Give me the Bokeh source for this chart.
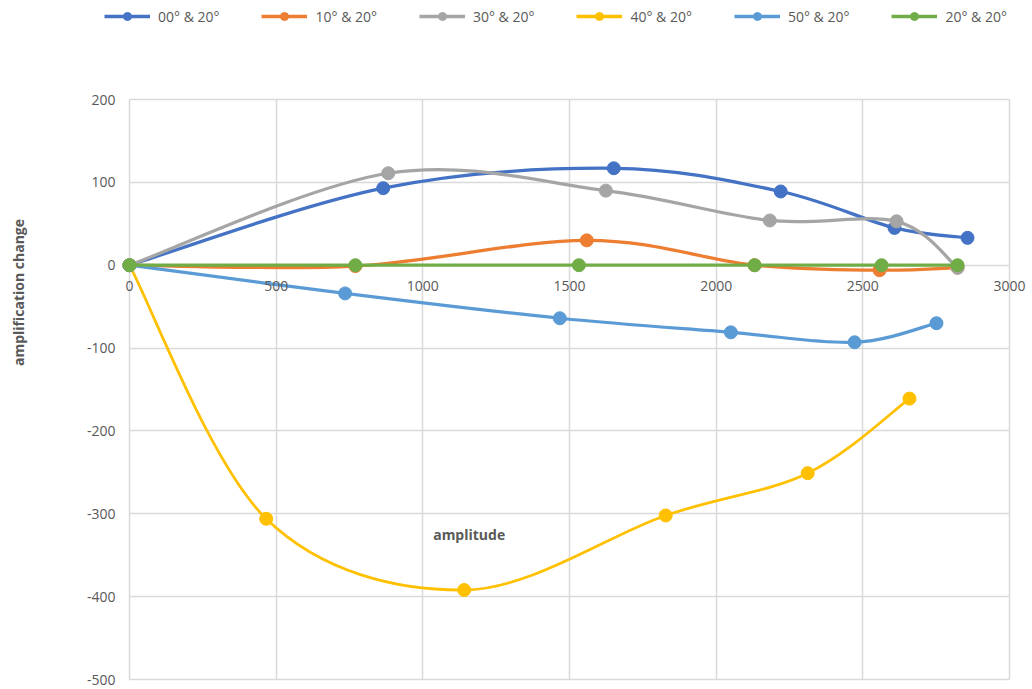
import math
from bokeh.plotting import figure
from bokeh.models import (Range1d, FixedTicker, Legend, LegendItem, Label, ColumnDataSource)
from bokeh.embed import file_html
from bokeh.resources import INLINE

series_names = ["00° & 20°", "10° & 20°", "30° & 20°", "40° & 20°", "50° & 20°", "20° & 20°"]
series_colors = ["#4472C4", "#ED7D31", "#A5A5A5", "#FFC000", "#5B9BD5", "#70AD47"]

x_00 = [0, 865, 1651, 2220, 2608, 2857]
y_00 = [0, 93, 117, 89, 45, 33]
x_10 = [0, 770, 1559, 2131, 2557, 2823]
y_10 = [0, -1, 30, 0, -6, -3]
x_30 = [0, 882, 1624, 2183, 2615, 2823]
y_30 = [0, 111, 90, 54, 53, -3]
x_40 = [0, 466, 1141, 1828, 2312, 2659]
y_40 = [0, -306, -392, -302, -251, -161]
x_50 = [0, 735, 1467, 2050, 2472, 2751]
y_50 = [0, -34, -64, -81, -93, -70]
x_20 = [0, 770, 1532, 2131, 2564, 2823]
y_20 = [0, 0, 0, 0, 0, 0]

xs_all = [x_00, x_10, x_30, x_40, x_50, x_20]
ys_all = [y_00, y_10, y_30, y_40, y_50, y_20]

x_ticks = [0, 500, 1000, 1500, 2000, 2500, 3000]
y_ticks = [-500, -400, -300, -200, -100, 0, 100, 200]
x_min, x_max = 0, 3000
y_min, y_max = -500, 200

FONT = "Open Sans"
TXT = "#595959"
GRID = "#D9D9D9"

W, H = 1032, 689
# plot box in canvas pixels
BOX_L, BOX_R, BOX_T, BOX_B = 129, 1009, 99, 679
kx = (BOX_R - BOX_L) / (x_max - x_min)
ky = (BOX_B - BOX_T) / (y_max - y_min)
xr = Range1d(x_min - BOX_L / kx, x_max + (W - BOX_R) / kx)
yr = Range1d(y_min - (H - BOX_B) / ky, y_max + BOX_T / ky)

p = figure(width=W, height=H, output_backend="svg", toolbar_location=None,
           x_range=xr, y_range=yr,
           min_border_left=0, min_border_right=0, min_border_top=0, min_border_bottom=0)
p.outline_line_color = None
p.background_fill_color = "white"
p.border_fill_color = "white"

p.xgrid.ticker = FixedTicker(ticks=x_ticks)
p.ygrid.ticker = FixedTicker(ticks=y_ticks)
for g in (p.xgrid[0], p.ygrid[0]):
    g.grid_line_color = GRID
    g.grid_line_width = 1.5

ok = True
try:
    p.xgrid[0].cross_bounds = (y_min, y_max)
    p.ygrid[0].cross_bounds = (x_min, x_max)
except Exception:
    ok = False
if not ok:
    big = 10000
    p.quad(left=[-big, x_max, -big, -big], right=[x_min, big, big, big],
           bottom=[-big, -big, y_max, -big], top=[big, big, big, y_min],
           fill_color="white", line_color=None)

xa = p.xaxis[0]
xa.ticker = FixedTicker(ticks=x_ticks)
xa.fixed_location = 0
xa.axis_line_color = None
xa.major_tick_line_color = None
xa.minor_tick_line_color = None
xa.major_label_standoff = 10
xa.major_label_text_font = FONT
xa.major_label_text_font_size = "14px"
xa.major_label_text_color = TXT

ya = p.yaxis[0]
ya.ticker = FixedTicker(ticks=y_ticks)
ya.fixed_location = 0
ya.axis_line_color = None
ya.major_tick_line_color = None
ya.minor_tick_line_color = None
ya.major_tick_out = 0
ya.major_label_standoff = 14
ya.major_label_text_font = FONT
ya.major_label_text_font_size = "14px"
ya.major_label_text_color = TXT
ya.major_label_overrides = {t: str(t) for t in y_ticks}


def smooth_segments(xs, ys):
    n = len(xs)
    x0, y0, x1, y1, cx0, cy0, cx1, cy1 = [], [], [], [], [], [], [], []
    for i in range(n - 1):
        xp, yp = (xs[i - 1], ys[i - 1]) if i > 0 else (xs[i], ys[i])
        xn, yn = (xs[i + 2], ys[i + 2]) if i + 2 < n else (xs[i + 1], ys[i + 1])
        x0.append(xs[i]); y0.append(ys[i])
        x1.append(xs[i + 1]); y1.append(ys[i + 1])
        cx0.append(xs[i] + (xs[i + 1] - xp) / 6.0)
        cy0.append(ys[i] + (ys[i + 1] - yp) / 6.0)
        cx1.append(xs[i + 1] - (xn - xs[i]) / 6.0)
        cy1.append(ys[i + 1] - (yn - ys[i]) / 6.0)
    return dict(x0=x0, y0=y0, x1=x1, y1=y1, cx0=cx0, cy0=cy0, cx1=cx1, cy1=cy1)


nan = float("nan")
legend_items = []
for name, color, xs, ys in zip(series_names, series_colors, xs_all, ys_all):
    lw = 2.75 if color == "#FFC000" else 3.25
    seg = ColumnDataSource(smooth_segments(xs, ys))
    p.bezier(x0="x0", y0="y0", x1="x1", y1="y1", cx0="cx0", cy0="cy0", cx1="cx1", cy1="cy1",
             source=seg, line_color=color, line_width=lw)
    p.scatter(xs, ys, marker="circle", size=13, fill_color=color, line_color=color)
    proxy_line = p.line([nan], [nan], line_color=color, line_width=3.5)
    proxy_pt = p.scatter([nan], [nan], marker="circle", size=10, fill_color=color, line_color=color)
    legend_items.append(LegendItem(label=name, renderers=[proxy_line, proxy_pt]))

legend = Legend(items=legend_items, orientation="horizontal", location=(104, H - 26),
                label_text_font=FONT, label_text_font_size="14px", label_text_color=TXT,
                glyph_width=46, glyph_height=20, label_standoff=8, spacing=42,
                padding=0, margin=0, border_line_color=None, background_fill_alpha=0)
p.add_layout(legend, "center")

p.add_layout(Label(x=18, y=H - 292, x_units="screen", y_units="screen", angle=math.pi / 2,
                   text="amplification change", text_font=FONT, text_font_size="14px",
                   text_font_style="bold", text_color=TXT, text_align="center",
                   text_baseline="middle"))
p.add_layout(Label(x=1158, y=-325, text="amplitude", text_font=FONT, text_font_size="14px",
                   text_font_style="bold", text_color=TXT, text_align="center",
                   text_baseline="middle"))

open("out.html", "w").write(file_html(p, INLINE))
